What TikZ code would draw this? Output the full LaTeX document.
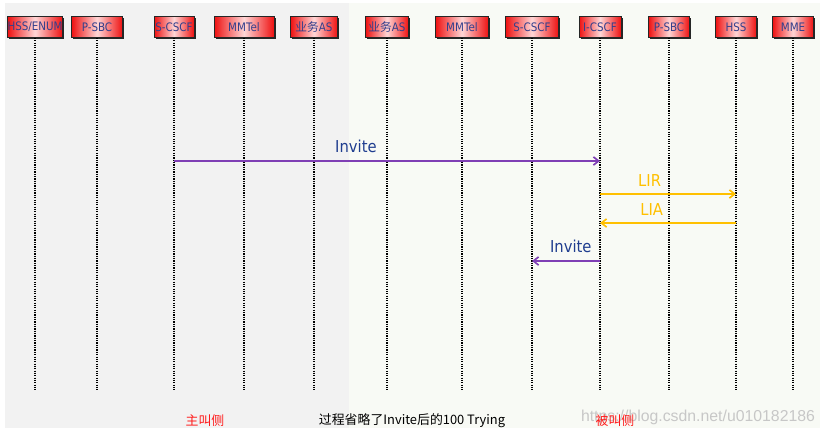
\documentclass[tikz,border=0pt]{standalone}
\usepackage{fontspec}
\setmainfont{DejaVu Sans}
\newfontfamily\cjk{Noto Sans CJK SC}
\newfontfamily\entfont[FakeStretch=0.88]{DejaVu Sans}
\newfontfamily\msgfont[FakeStretch=0.9]{DejaVu Sans}
\newfontfamily\markfont{Liberation Sans}
\usetikzlibrary{arrows.meta,shadows}
\definecolor{callerbg}{HTML}{F2F2F2}
\definecolor{calleebg}{HTML}{F8FAF5}
\definecolor{entred}{HTML}{EE1111}
\definecolor{entpink}{HTML}{FFD6D6}
\definecolor{enttext}{HTML}{333F8C}
\definecolor{sippurple}{HTML}{7F3FB5}
\definecolor{labelblue}{HTML}{1F3D8F}
\definecolor{diaorange}{HTML}{FFC000}
\definecolor{notered}{HTML}{FF1A1A}
\tikzset{
  >={Straight Barb[length=4.5pt,width=7pt]},
  every node/.style={inner sep=0pt},
  entity/.style={draw=black!85,line width=0.6pt,left color=entred,right color=entred,middle color=entpink,
    minimum height=6.3mm,font=\entfont\fontsize{10}{11}\selectfont,text=enttext,
    drop shadow={shadow xshift=1.4pt,shadow yshift=-1.4pt,fill=black!85,opacity=1}},
  lifeline/.style={line width=1pt,dash pattern=on 1pt off 1pt,draw=black},
  sipmsg/.style={->,line width=1.4pt,draw=sippurple},
  diamsg/.style={->,line width=1.4pt,draw=diaorange},
  msglabel/.style={font=\msgfont\fontsize{14}{16}\selectfont,text=labelblue},
  dialabel/.style={msglabel,text=diaorange},
  sidenote/.style={font=\cjk\fontsize{11}{13}\selectfont,text=notered},
  remark/.style={font=\cjk\fontsize{11}{13}\selectfont,text=black},
  watermark/.style={font=\markfont\fontsize{13.5}{15}\selectfont,text=black!22}
}
\begin{document}
\begin{tikzpicture}[x=0.3mm,y=-0.3mm]
  % canvas and the two sides
  \useasboundingbox (0,0) rectangle (823,435);
  \fill[white] (0,0) rectangle (823,435);
  \fill[callerbg] (5,3) rectangle (349,428);
  \fill[calleebg] (349,3) rectangle (820,428);

  % caller side entities
  \node[entity,minimum width=16.5mm] (hssenum) at (35,27) {HSS/ENUM};
  \node[entity,minimum width=15.3mm] (psbc1) at (97,27) {P-SBC};
  \node[entity,minimum width=12mm] (scscf1) at (174,27) {S-CSCF};
  \node[entity,minimum width=18mm] (mmtel1) at (244,27) {MMTel};
  \node[entity,minimum width=14.1mm] (as1) at (314,27) {{\cjk 业务}AS};
  % callee side entities
  \node[entity,minimum width=12.9mm] (as2) at (387,27) {{\cjk 业务}AS};
  \node[entity,minimum width=15.9mm] (mmtel2) at (462,27) {MMTel};
  \node[entity,minimum width=15.9mm] (scscf2) at (532,27) {S-CSCF};
  \node[entity,minimum width=12.6mm] (icscf) at (600,27) {I-CSCF};
  \node[entity,minimum width=12.3mm] (psbc2) at (669,27) {P-SBC};
  \node[entity,minimum width=12.3mm] (hss) at (736,27) {HSS};
  \node[entity,minimum width=12.3mm] (mme) at (793,27) {MME};

  % lifelines
  \coordinate (bottom) at (0,390);
  \foreach \ent in {hssenum,psbc1,scscf1,mmtel1,as1,as2,mmtel2,scscf2,icscf,psbc2,hss,mme}
    \draw[lifeline] (\ent.south) -- (\ent.south |- bottom);

  % messages
  \coordinate (t1) at (0,161);
  \coordinate (t2) at (0,194);
  \coordinate (t3) at (0,223);
  \coordinate (t4) at (0,261);
  \draw[sipmsg] (scscf1 |- t1) -- node[msglabel,pos=0.427,above=6pt] {Invite} (icscf |- t1);
  \draw[diamsg] (icscf |- t2) -- node[dialabel,pos=0.365,above=6pt] {LIR} (hss |- t2);
  \draw[diamsg] (hss |- t3) -- node[dialabel,pos=0.62,above=6pt] {LIA} (icscf |- t3);
  \draw[sipmsg] (icscf |- t4) -- node[msglabel,pos=0.43,above=6pt] {Invite} (scscf2 |- t4);

  % notes along the bottom
  \node[watermark] (mark) at (698,417) {https://blog.csdn.net/u010182186};
  \node[sidenote] (caller) at (205,421) {主叫侧};
  \node[remark] (omit) at (412,421) {过程省略了Invite后的100 Trying};
  \node[sidenote] (callee) at (615,421) {被叫侧};
\end{tikzpicture}
\end{document}
